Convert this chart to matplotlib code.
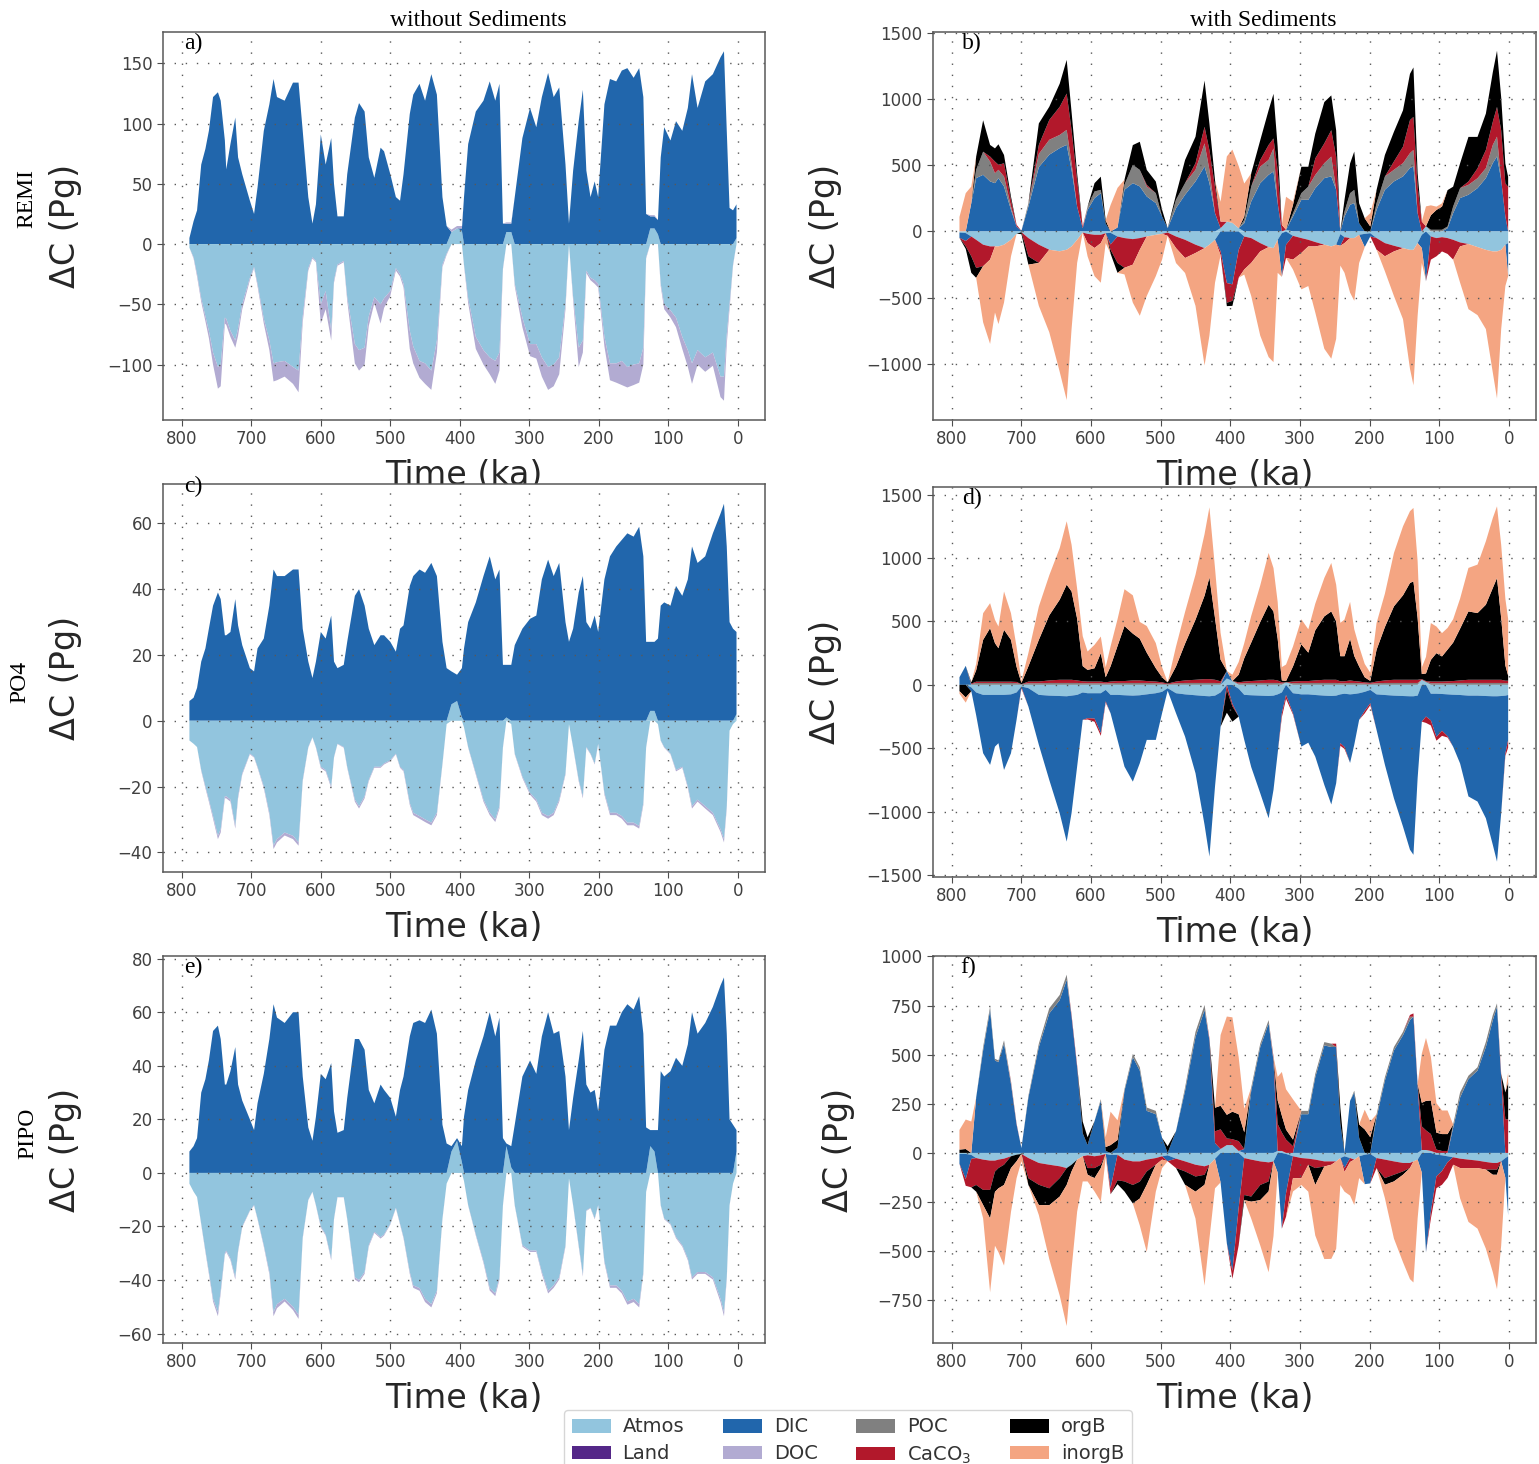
import numpy as np
import matplotlib
matplotlib.use('Agg')
import matplotlib.pyplot as plt
from matplotlib.patches import Patch

# ---- time axes (ka) ----
time_left = [789, 783, 778, 772, 766, 761, 755, 748, 744, 738,
             736, 730, 723, 719, 713, 702, 696, 691, 682, 674,
             668, 663, 652, 640, 632, 626, 618, 612, 607, 600,
             593, 585, 581, 576, 567, 562, 551, 545, 537, 531,
             523, 514, 509, 500, 492, 486, 481, 472, 467, 458,
             450, 441, 433, 425, 419, 412, 404, 397, 394, 388,
             377, 366, 357, 349, 343, 338, 333, 326, 321, 310,
             299, 290, 282, 273, 265, 257, 248, 243, 237, 229,
             223, 218, 212, 206, 201, 192, 184, 175, 167, 159,
             150, 142, 136, 132, 126, 120, 115, 111, 106, 97,
             89, 80, 72, 66, 58, 47, 36, 25, 20, 16,
             12, 7, 2]

time_right = [789, 780, 772, 765, 755, 745, 738, 733, 725, 715,
              707, 700, 690, 675, 660, 645, 635, 628, 620, 612,
              605, 595, 586, 579, 572, 562, 552, 540, 530, 520,
              507, 498, 490, 478, 465, 450, 437, 430, 422, 414,
              405, 397, 388, 380, 370, 357, 345, 338, 332, 326,
              320, 310, 298, 288, 278, 265, 255, 248, 242, 236,
              228, 222, 215, 207, 199, 190, 178, 165, 152, 142,
              137, 131, 125, 119, 112, 104, 96, 88, 80, 70,
              58, 45, 33, 23, 17, 11, 5, 1]

# ---- REMI, without sediments (Pg C) ----
remi_dic = [5, 19, 28, 66, 79, 94, 122, 126, 119, 86,
            62, 83, 105, 72, 58, 36, 25, 47, 94, 116,
            137, 122, 119, 134, 134, 94, 39, 17, 33, 91,
            66, 88, 50, 23, 23, 58, 105, 117, 110, 72,
            55, 80, 77, 58, 39, 36, 58, 108, 124, 133,
            119, 141, 124, 39, 15, 0, 0, 2, 39, 83,
            110, 119, 135, 119, 133, 17, 7, 7, 39, 88,
            113, 97, 122, 142, 122, 130, 66, 17, 61, 102,
            128, 61, 39, 52, 39, 116, 137, 135, 144, 146,
            138, 146, 122, 25, 10, 10, 12, 72, 97, 86,
            102, 94, 113, 141, 113, 135, 141, 155, 160, 94,
            30, 28, 28]
remi_atmos = [-3, -11, -25, -45, -60, -72, -90, -102, -100, -61,
              -62, -72, -80, -70, -50, -28, -19, -33, -62, -80,
              -99, -98, -97, -102, -105, -60, -20, -11, -14, -50,
              -39, -72, -30, -17, -14, -44, -83, -88, -86, -60,
              -44, -50, -45, -39, -20, -25, -33, -72, -85, -97,
              -99, -105, -80, -17, -8, 10, 13, 11, -17, -45,
              -77, -88, -94, -97, -90, -20, 10, 10, -33, -61,
              -83, -83, -94, -102, -100, -94, -50, 0, -44, -86,
              -80, -22, -28, -30, -33, -77, -99, -99, -97, -102,
              -100, -99, -86, -11, 13, 13, 8, -33, -50, -55,
              -61, -77, -88, -99, -88, -94, -90, -110, -110, -75,
              -50, -17, 5]
remi_doc = [0, -1, -2, -3, -4, -6, -10, -18, -18, -5,
            -5, -5, -6, -6, -4, -2, -1, -2, -4, -8,
            -15, -15, -13, -14, -18, -5, -2, -1, -1, -16,
            -15, -8, -2, -1, -1, -3, -16, -17, -14, -8,
            -5, -16, -8, -4, -2, -2, -3, -15, -14, -14,
            -17, -16, -10, -2, -1, 2, 2, 2, -1, -4,
            -10, -12, -14, -19, -15, -1, 1, 1, -2, -8,
            -10, -12, -16, -19, -18, -14, -4, 0, -3, -16,
            -10, -2, -2, -3, -3, -8, -14, -16, -20, -17,
            -17, -16, -14, -1, 1, 1, 0, -2, -4, -6,
            -8, -10, -14, -17, -12, -12, -11, -17, -20, -8,
            -4, -1, 0]

# ---- PO4, without sediments ----
po4_dic = [6, 7, 10, 18, 22, 28, 35, 39, 37, 26,
           26, 27, 37, 29, 23, 16, 15, 22, 25, 35,
           46, 44, 44, 46, 46, 28, 18, 13, 18, 27,
           25, 32, 18, 16, 17, 24, 38, 40, 35, 28,
           23, 26, 26, 24, 21, 28, 29, 41, 44, 46,
           45, 48, 44, 24, 16, 10, 8, 15, 22, 30,
           36, 44, 50, 43, 46, 17, 16, 17, 23, 28,
           31, 32, 43, 49, 44, 48, 30, 24, 28, 39,
           44, 30, 28, 32, 27, 43, 50, 53, 55, 57,
           56, 59, 50, 24, 21, 21, 25, 35, 36, 35,
           41, 38, 43, 53, 48, 50, 57, 63, 66, 53,
           30, 28, 25]
po4_atmos = [-6, -7, -8, -15, -20, -24, -29, -35, -33, -23,
             -23, -24, -32, -23, -16, -10, -11, -14, -20, -28,
             -38, -36, -34, -35, -37, -18, -8, -5, -8, -14,
             -15, -20, -11, -7, -8, -14, -24, -26, -23, -18,
             -14, -14, -13, -12, -10, -14, -15, -25, -28, -29,
             -30, -31, -28, -13, -1, 5, 6, 1, -2, -8,
             -16, -24, -28, -30, -26, -8, 1, -1, -10, -17,
             -22, -24, -28, -29, -28, -24, -16, -1, -8, -18,
             -23, -8, -10, -13, -7, -22, -28, -28, -29, -31,
             -31, -32, -25, -8, 3, 3, -1, -6, -8, -10,
             -15, -14, -20, -26, -24, -26, -28, -33, -36, -26,
             -3, -1, 2]
po4_doc = [0, 0, 0, -0.3, -0.5, -0.6, -0.8, -1, -1, -0.6,
           -0.6, -0.6, -0.8, -0.6, -0.4, -0.2, -0.2, -0.3, -0.5, -0.7,
           -1, -1, -0.9, -1, -1, -0.4, -0.2, -0.1, -0.2, -0.4,
           -0.4, -0.5, -0.2, -0.1, -0.2, -0.3, -0.6, -0.7, -0.6, -0.4,
           -0.3, -0.3, -0.3, -0.3, -0.2, -0.3, -0.4, -0.6, -0.7, -0.8,
           -0.8, -0.8, -0.7, -0.3, 0, 0, 0, 0, 0, -0.2,
           -0.4, -0.6, -0.7, -0.8, -0.7, -0.2, 0, 0, -0.2, -0.4,
           -0.5, -0.6, -0.7, -0.8, -0.7, -0.6, -0.4, 0, -0.2, -0.4,
           -0.6, -0.2, -0.2, -0.3, -0.2, -0.5, -0.7, -0.7, -0.8, -0.8,
           -0.8, -0.8, -0.6, -0.2, 0, 0, 0, -0.1, -0.2, -0.2,
           -0.4, -0.3, -0.5, -0.7, -0.6, -0.7, -0.7, -0.8, -1, -0.7,
           0, 0, 0]

# ---- PIPO, without sediments ----
pipo_dic = [8, 10, 13, 30, 35, 42, 53, 55, 50, 33,
            33, 38, 47, 33, 27, 20, 16, 26, 37, 50,
            63, 58, 56, 60, 60, 36, 17, 12, 21, 37,
            35, 41, 23, 15, 16, 28, 50, 50, 46, 31,
            26, 33, 31, 28, 21, 31, 36, 51, 56, 57,
            56, 61, 52, 18, 11, 2, 1, 6, 21, 31,
            42, 51, 60, 51, 58, 13, 1, 8, 18, 36,
            42, 37, 51, 60, 52, 53, 36, 16, 28, 42,
            53, 33, 30, 31, 23, 46, 55, 55, 60, 63,
            61, 66, 52, 17, 6, 8, 16, 38, 36, 38,
            43, 40, 48, 60, 52, 56, 62, 70, 73, 52,
            20, 18, 8]
pipo_atmos = [-4, -7, -9, -19, -29, -37, -47, -52, -44, -30,
              -29, -32, -39, -29, -20, -14, -12, -17, -27, -37,
              -52, -49, -47, -50, -53, -24, -10, -7, -12, -20,
              -23, -32, -17, -9, -9, -17, -39, -40, -37, -27,
              -22, -24, -23, -19, -13, -19, -24, -37, -42, -43,
              -47, -49, -44, -17, -4, 8, 12, 4, -3, -12,
              -23, -33, -43, -45, -39, -12, 10, 2, -12, -27,
              -29, -29, -37, -44, -42, -39, -27, -2, -12, -27,
              -38, -14, -13, -17, -12, -33, -42, -42, -44, -48,
              -47, -49, -37, -7, 10, 8, 0, -12, -17, -19,
              -24, -27, -32, -39, -37, -37, -39, -47, -52, -39,
              -12, -4, 8]
pipo_doc = [0, 0, 0, -0.3, -0.5, -0.7, -1, -1.5, -1, -0.5,
            -0.5, -0.5, -0.8, -0.5, -0.3, -0.2, -0.2, -0.3, -0.5, -0.8,
            -1.5, -1.5, -1, -1.2, -1.5, -0.4, -0.2, -0.1, -0.2, -0.4,
            -0.4, -0.6, -0.3, -0.1, -0.1, -0.3, -0.8, -0.8, -0.7, -0.5,
            -0.4, -0.5, -0.4, -0.3, -0.2, -0.3, -0.4, -0.7, -0.9, -1,
            -1.2, -1.2, -0.9, -0.3, 0, 0, 0, 0, 0, -0.2,
            -0.4, -0.6, -0.9, -1, -0.8, -0.2, 0, 0, -0.2, -0.5,
            -0.5, -0.5, -0.7, -1, -0.9, -0.8, -0.5, 0, -0.2, -0.5,
            -0.7, -0.2, -0.2, -0.3, -0.2, -0.6, -0.9, -0.9, -1, -1.2,
            -1.2, -1.2, -0.7, -0.1, 0, 0, 0, -0.2, -0.3, -0.3,
            -0.4, -0.5, -0.6, -0.8, -0.7, -0.7, -0.8, -1.2, -1.5, -0.8,
            -0.2, 0, 0]

# ---- REMI, with sediments ----
remi_s_atmos = [-8, -12, -38, -63, -100, -113, -113, -113, -100, -63,
                -18, -5, -50, -100, -138, -150, -138, -113, -63, -8,
                -18, -25, -25, -13, -10, -38, -50, -58, -50, -38,
                -25, -18, -8, -38, -63, -100, -126, -100, -63, 25,
                75, 65, 25, -38, -50, -88, -118, -126, -63, -13,
                13, -33, -50, -63, -80, -100, -113, -100, -20, -43,
                -50, -50, -25, -18, -13, -50, -88, -108, -126, -139,
                -139, -88, -25, 40, -38, -50, -43, -50, -63, -83,
                -95, -118, -139, -151, -151, -139, -100, -88]
remi_s_dic = [-40, -60, 215, 404, 429, 379, 366, 404, 341, 164,
              38, 5, 189, 487, 581, 631, 656, 467, 189, 25,
              164, 253, 290, 60, -88, 30, 316, 366, 341, 265,
              215, 114, 25, 177, 278, 379, 492, 366, 139, -150,
              -390, -400, -140, 63, 227, 366, 429, 454, 215, -330,
              -100, 113, 240, 240, 328, 404, 417, 316, -88, 114,
              202, 215, 63, -100, -25, 164, 316, 379, 417, 480,
              492, 139, -100, -375, 0, 0, 0, 25, 139, 253,
              278, 328, 404, 518, 568, 391, 114, -250]
remi_s_poc = [0, 0, 0, 63, 175, 150, 75, 63, 75, 25,
              0, 0, 25, 100, 113, 100, 113, 50, 0, 0,
              25, 50, 25, 0, 0, 0, 38, 138, 125, 75,
              75, 0, 0, 63, 88, 88, 175, 100, 0, 0,
              0, 0, 0, 25, 113, 125, 113, 175, 0, 0,
              0, 25, 50, 100, 100, 113, 150, 0, 0, 38,
              88, 100, 0, 0, 0, 50, 100, 88, 100, 113,
              125, 0, 0, 0, 13, 13, 13, 13, 50, 75,
              75, 75, 75, 138, 150, 0, 0, 0]
remi_s_caco3_up = [0, 0, 0, 0, 0, 38, 88, 38, 100, 50,
                   13, 0, 0, 68, 150, 213, 275, 250, 200, 13,
                   0, 0, 0, 0, 0, 0, 0, 0, 0, 13,
                   0, 0, 0, 0, 0, 50, 125, 150, 200, 50,
                   0, 0, 0, 0, 0, 50, 113, 75, 250, 50,
                   0, 0, 0, 0, 125, 150, 200, 250, 0, 0,
                   0, 0, 0, 0, 0, 0, 0, 63, 125, 250,
                   250, 200, 75, 0, 0, 0, 0, 0, 0, 0,
                   25, 75, 138, 175, 225, 375, 250, 338]
remi_s_caco3_dn = [0, -40, -150, -213, -163, -100, 0, 0, 0, 0,
                   0, 0, -138, -138, 0, 0, 0, 0, 0, 0,
                   -70, -100, -63, 0, -40, -200, -225, -193, -88, 0,
                   0, 0, -25, -88, -138, -63, 0, 0, 0, -30,
                   -150, -125, -210, -250, -188, -63, 0, 0, 0, 0,
                   -100, -180, -113, -50, -33, 0, 0, 0, 0, -45,
                   0, 0, 0, 0, 0, -88, -100, -43, 0, 0,
                   0, 0, 0, 0, -175, -138, -108, -120, -150, -30,
                   0, 0, 0, 0, 0, 0, 0, 0]
remi_s_orgb_up = [0, 0, 0, 100, 238, 88, 100, 155, 63, 25,
                  0, 0, 0, 163, 100, 175, 255, 138, 50, 0,
                  0, 63, 100, 25, 0, 0, 38, 150, 213, 113,
                  88, 50, 0, 38, 175, 200, 350, 200, 50, 0,
                  0, 0, 0, 25, 100, 150, 263, 338, 175, 0,
                  0, 63, 200, 150, 188, 313, 263, 200, 0, 88,
                  225, 290, 150, 100, 38, 100, 163, 225, 275, 350,
                  375, 100, 0, 0, 110, 150, 175, 275, 150, 188,
                  338, 238, 275, 375, 425, 250, 150, 75]
remi_s_orgb_dn = [0, -20, -125, -75, 0, 0, 0, 0, 0, 0,
                  0, -15, -63, 0, 0, 0, 0, 0, 0, 0,
                  0, 0, 0, 0, -30, -75, 0, 0, 0, 0,
                  0, 0, 0, 0, 0, 0, 0, 0, 0, 0,
                  -25, -38, 0, 0, 0, 0, 0, 0, 0, 0,
                  0, 0, 0, 0, 0, 0, 0, 0, 0, 0,
                  0, 0, 0, 0, 0, 0, 0, 0, 0, 0,
                  0, 0, 0, 0, 0, 0, 0, 0, 0, 0,
                  0, 0, 0, 0, 0, 0, 0, 0]
remi_s_inorgb_up = [110, 290, 125, 0, 0, 0, 0, 0, 0, 0,
                    0, 0, 0, 0, 0, 0, 0, 0, 0, 0,
                    0, 0, 0, 0, 200, 300, 0, 0, 0, 0,
                    0, 0, 0, 0, 0, 0, 0, 0, 0, 150,
                    493, 555, 470, 250, 0, 0, 0, 0, 0, 0,
                    250, 25, 0, 0, 0, 0, 0, 0, 0, 0,
                    0, 0, 0, 0, 100, 0, 0, 0, 0, 0,
                    0, 0, 0, 150, 75, 25, 25, 0, 0, 0,
                    0, 0, 0, 0, 0, 0, 0, 0]
remi_s_inorgb_dn = [0, 0, 0, 0, -425, -638, -500, -588, -438, -125,
                    0, 0, 0, -325, -625, -913, -1138, -625, -175, 0,
                    -100, -213, -300, -75, 0, 0, -50, -288, -500, -450,
                    -313, -195, 0, -113, -113, -400, -888, -688, -325, 0,
                    0, 0, 0, -38, -250, -638, -833, -863, -250, 0,
                    0, -75, -275, -300, -500, -788, -850, -713, -150, -225,
                    -413, -475, -213, 0, 0, 0, -113, -338, -538, -900,
                    -1025, -550, -113, 0, 0, 0, 0, 0, 0, -275,
                    -493, -515, -600, -918, -1113, -600, -313, 0]

# ---- PO4, with sediments ----
po4_s_atmos = [0, 0, -20, -60, -79, -79, -79, -79, -79, -75,
               -60, -13, -26, -79, -85, -88, -90, -85, -79, -60,
               -66, -66, -66, -40, -79, -79, -82, -85, -82, -75,
               -66, -55, -26, -66, -75, -82, -88, -90, -85, -60,
               50, 30, -30, -79, -82, -85, -88, -85, -75, -60,
               20, -66, -75, -75, -80, -85, -88, -85, -75, -70,
               -75, -72, -66, -55, -40, -75, -80, -85, -88, -90,
               -90, -85, 40, 20, -70, -70, -72, -75, -78, -80,
               -85, -85, -88, -90, -90, -88, -85, -80]
po4_s_dic = [60, 150, -30, -180, -460, -552, -408, -381, -592, -464,
             -216, -5, -145, -394, -665, -925, -1146, -925, -565, -216,
             -197, -200, -316, -90, -145, -355, -563, -678, -536, -359,
             -368, -168, -20, -158, -333, -615, -1016, -1264, -717, -270,
             60, -150, -220, -355, -566, -770, -964, -743, -464, -164,
             -80, -158, -412, -381, -486, -704, -855, -691, -385, -420,
             -540, -400, -210, -150, -105, -280, -550, -810, -1030, -1210,
             -1250, -650, -290, -250, -210, -340, -290, -330, -410, -540,
             -795, -835, -964, -1172, -1304, -925, -455, -355]
po4_s_poc = [0, 0, 5, 15, 15, 15, 15, 15, 15, 15,
             13, 5, 13, 13, 15, 15, 15, 15, 15, 13,
             13, 13, 13, 10, 13, 15, 15, 15, 15, 15,
             13, 10, 5, 13, 15, 15, 15, 15, 15, 13,
             0, 0, 10, 13, 15, 15, 15, 15, 15, 10,
             0, 13, 15, 15, 15, 15, 15, 15, 13, 13,
             15, 15, 13, 10, 8, 13, 15, 15, 15, 15,
             15, 15, 0, 5, 13, 13, 13, 13, 15, 15,
             15, 15, 15, 15, 15, 15, 13, 13]
po4_s_caco3_up = [0, 0, 5, 10, 10, 10, 10, 10, 10, 10,
                  10, 0, 13, 13, 20, 25, 25, 25, 20, 15,
                  13, 13, 13, 10, 13, 15, 15, 20, 20, 15,
                  13, 10, 5, 13, 20, 25, 30, 30, 25, 15,
                  0, 0, 10, 13, 15, 20, 25, 25, 20, 10,
                  0, 13, 15, 15, 20, 25, 25, 25, 15, 15,
                  20, 15, 13, 10, 8, 13, 20, 25, 25, 25,
                  25, 25, 5, 5, 13, 13, 13, 15, 15, 20,
                  25, 25, 25, 25, 25, 25, 20, 20]
po4_s_caco3_dn = [0, 0, 0, 0, 0, 0, 0, 0, 0, 0,
                  0, -10, 0, 0, 0, 0, 0, 0, 0, 0,
                  -10, -25, -20, -10, 0, 0, 0, 0, 0, 0,
                  0, 0, 0, 0, 0, 0, 0, 0, 0, 0,
                  -40, -20, 0, 0, 0, 0, 0, 0, 0, -30,
                  -30, -10, 0, 0, 0, 0, 0, 0, -20, -15,
                  0, 0, 0, -20, -15, 0, 0, 0, 0, 0,
                  0, 0, 0, -50, -40, -30, -40, -10, 0, 0,
                  0, 0, 0, 0, 0, 0, -20, -60]
po4_s_orgb_up = [0, 0, 10, 90, 330, 422, 304, 264, 409, 330,
                 120, 10, 120, 329, 513, 632, 750, 697, 487, 120,
                 92, 105, 224, 40, 120, 276, 434, 369, 329, 224,
                 105, 40, 10, 119, 290, 474, 658, 802, 487, 171,
                 0, 0, 60, 184, 303, 461, 592, 539, 329, 15,
                 10, 119, 290, 224, 395, 500, 539, 461, 198, 198,
                 329, 198, 119, 40, 15, 250, 421, 579, 666, 763,
                 776, 487, 40, 60, 171, 224, 198, 250, 303, 408,
                 539, 526, 592, 724, 802, 487, 120, 40]
po4_s_orgb_dn = [-50, -100, 0, 0, 0, 0, 0, 0, 0, 0,
                 0, 0, 0, 0, 0, 0, 0, 0, 0, 0,
                 0, 0, 0, 0, 0, 0, 0, 0, 0, 0,
                 0, 0, 0, 0, 0, 0, 0, 0, 0, 0,
                 -180, -120, 0, 0, 0, 0, 0, 0, 0, 0,
                 0, 0, 0, 0, 0, 0, 0, 0, 0, 0,
                 0, 0, 0, 0, 0, 0, 0, 0, 0, 0,
                 0, 0, 0, 0, 0, 0, 0, 0, 0, 0,
                 0, 0, 0, 0, 0, 0, 0, 0]
po4_s_inorgb_up = [0, 0, 0, 50, 210, 197, 184, 171, 302, 210,
                   157, 15, 105, 263, 316, 407, 500, 368, 237, 236,
                   145, 185, 131, 79, 157, 211, 290, 302, 132, 210,
                   198, 79, 0, 157, 250, 355, 486, 553, 394, 211,
                   0, 50, 100, 119, 210, 289, 408, 342, 290, 105,
                   130, 157, 197, 184, 210, 303, 382, 289, 263, 289,
                   290, 210, 157, 105, 65, 211, 263, 421, 544, 566,
                   579, 447, 52, 130, 290, 210, 184, 171, 184, 237,
                   343, 382, 500, 552, 566, 578, 526, 447]
po4_s_inorgb_dn = [-20, -40, 0, 0, 0, 0, 0, 0, 0, 0,
                   0, 0, 0, 0, 0, 0, 0, 0, 0, 0,
                   0, 0, 0, 0, 0, 0, 0, 0, 0, 0,
                   0, 0, 0, 0, 0, 0, 0, 0, 0, 0,
                   0, 0, 0, 0, 0, 0, 0, 0, 0, 0,
                   0, 0, 0, 0, 0, 0, 0, 0, 0, 0,
                   0, 0, 0, 0, 0, 0, 0, 0, 0, 0,
                   0, 0, 0, 0, 0, 0, 0, 0, 0, 0,
                   0, 0, 0, 0, 0, 0, 0, 0]

# ---- PIPO, with sediments ----
pipo_s_atmos = [-5, -5, -10, -26, -34, -39, -39, -34, -29, -17,
                -9, -5, -26, -51, -60, -68, -77, -60, -34, -17,
                -12, -17, -12, -5, -10, -9, -34, -43, -43, -34,
                -26, -17, -12, -29, -43, -60, -68, -60, -30, 20,
                40, 40, 10, -26, -34, -43, -48, -43, 10, 10,
                -5, -17, -26, -29, -34, -43, -43, -43, -26, -17,
                -26, -34, -17, -9, -5, -26, -34, -43, -51, -51,
                -43, -34, 15, 15, 10, -9, -12, -17, -22, -29,
                -34, -39, -46, -51, -51, -43, -26, -17]
pipo_s_dic = [-50, -128, -20, 282, 522, 727, 470, 462, 556, 351,
              145, 25, 282, 539, 710, 778, 881, 693, 436, 100,
              40, 162, 265, 10, -170, 26, 316, 487, 419, 214,
              197, 77, -30, 111, 316, 590, 727, 573, 50, -150,
              -460, -600, -280, 20, 316, 539, 659, 470, -100, -385,
              -200, 0, 197, 197, 385, 547, 539, 539, 150, -60,
              265, 308, 77, -150, -150, 180, 368, 522, 599, 676,
              693, 342, -100, -505, -300, -110, -80, -30, 128, 282,
              376, 419, 539, 676, 744, 385, -100, -300]
pipo_s_poc = [0, 0, 0, 0, 17, 17, 9, 9, 17, 9,
              0, 0, 9, 17, 26, 26, 26, 0, 0, 0,
              0, 0, 9, 0, 0, 0, 9, 17, 17, 17,
              17, 0, 0, 0, 17, 26, 26, 0, 0, 0,
              0, 0, 0, 0, 17, 17, 17, 10, 0, 0,
              0, 0, 17, 17, 17, 17, 17, 0, 0, 0,
              0, 9, 0, 0, 0, 17, 17, 17, 17, 17,
              0, 0, 0, 0, 0, 0, 0, 0, 17, 26,
              17, 17, 26, 26, 17, 0, 0, 0]
pipo_s_caco3_up = [0, 0, 0, 0, 0, 0, 0, 0, 0, 5,
                   5, 0, 0, 0, 0, 0, 0, 10, 10, 0,
                   0, 0, 0, 0, 0, 0, 0, 0, 0, 0,
                   0, 0, 0, 0, 0, 0, 0, 10, 60, 100,
                   34, 30, 50, 0, 0, 0, 0, 10, 137, 94,
                   68, 34, 0, 0, 0, 0, 0, 17, 0, 0,
                   0, 0, 0, 0, 0, 0, 0, 0, 0, 9,
                   17, 9, 120, 100, 86, 17, 10, 10, 0, 0,
                   0, 0, 0, 0, 0, 17, 171, 171]
pipo_s_caco3_dn = [0, -34, -145, -137, -154, -149, -56, -43, -31, 0,
                   0, 0, -103, -111, -120, -60, 0, 0, 0, 0,
                   -65, -60, -48, 0, -30, -130, -111, -120, -103, -60,
                   -34, -17, 0, -48, -51, -60, -43, 0, 0, 0,
                   0, -40, -190, -188, -188, -120, -97, 0, 0, 0,
                   -120, -111, -103, -31, -43, -26, -17, 0, 0, -20,
                   -20, 0, 0, 0, 0, -51, -94, -68, -43, -26,
                   0, 0, 0, 0, -34, -60, -70, -80, -38, -48,
                   -43, -38, -39, -34, -34, 0, 0, 0]
pipo_s_orgb_up = [17, 20, 0, 0, 0, 0, 0, 0, 0, 0,
                  0, 0, 0, 0, 0, 0, 0, 0, 0, 60,
                  40, 0, 0, 20, 40, 40, 0, 0, 0, 0,
                  0, 0, 34, 0, 0, 0, 0, 0, 120, 120,
                  120, 140, 137, 85, 0, 0, 0, 0, 120, 86,
                  51, 34, 0, 0, 0, 0, 0, 0, 80, 0,
                  0, 0, 68, 120, 80, 0, 0, 0, 0, 0,
                  0, 0, 120, 150, 171, 86, 86, 86, 0, 0,
                  0, 0, 0, 0, 0, 0, 137, 188]
pipo_s_orgb_dn = [0, 0, 0, -34, -77, -145, -103, -103, -103, -60,
                  -34, 0, -34, -103, -86, -94, -86, -34, 0, 0,
                  -34, -51, -17, 0, 0, -20, -51, -94, -86, -68,
                  0, 0, 0, 0, -68, -77, -51, 0, 0, 0,
                  0, 0, 0, -26, -26, -77, -51, 0, 0, 0,
                  0, 0, 0, 0, -86, 0, 0, 0, 0, 0,
                  0, 0, 0, 0, 0, 0, -34, -34, -17, 0,
                  0, 0, 0, 0, 0, 0, 0, 0, 0, 0,
                  0, 0, 0, -26, -26, 0, 0, 0]
pipo_s_inorgb_up = [100, 150, 160, 0, 0, 0, 0, 0, 0, 0,
                    0, 0, 0, 0, 0, 0, 0, 0, 0, 0,
                    0, 0, 0, 50, 170, 100, 0, 0, 0, 0,
                    0, 0, 0, 0, 0, 0, 0, 0, 0, 360,
                    500, 480, 290, 120, 0, 0, 0, 0, 120, 222,
                    205, 205, 0, 0, 0, 0, 0, 0, 0, 0,
                    0, 0, 0, 100, 80, 0, 0, 0, 0, 0,
                    0, 0, 250, 320, 222, 150, 120, 120, 0, 0,
                    0, 0, 0, 0, 0, 0, 0, 50]
pipo_s_inorgb_dn = [0, 0, 0, 0, -68, -376, -274, -325, -410, -223,
                    -86, -37, 0, -51, -274, -504, -718, -496, -265, -128,
                    -34, -68, -171, -20, 0, 0, 0, 0, -137, -342,
                    -137, -43, 0, 0, 0, -137, -513, -376, -150, 0,
                    0, 0, 0, 0, -86, -231, -411, -380, 0, 0,
                    0, -68, -34, -137, -257, -471, -479, -445, -137, -100,
                    -171, -231, -111, 0, 0, 0, -68, -291, -445, -565,
                    -616, -299, 0, 0, 0, 0, 0, 0, 0, -154,
                    -274, -308, -402, -496, -582, -428, 0, 0]

labels = ['Atmos', 'Land', 'DIC', 'DOC', 'POC', 'CaCO$_3$', 'orgB', 'inorgB']
colors = ['#92c5de', '#542788', '#2166ac', '#b2abd2', '#808080', '#b2182b', '#000000', '#f4a582']
col = dict(zip(['atmos', 'land', 'dic', 'doc', 'poc', 'caco3', 'orgb', 'inorgb'], colors))

W, H = 1539, 1464
SERIF = 'Liberation Serif'


def px_axes(x0, y0, x1, y1):
    return [x0 / W, 1 - y1 / H, (x1 - x0) / W, (y1 - y0) / H]


def style(ax, ylim, yticks, ylab_x):
    ax.set_xlim(827, -39)
    ax.set_ylim(*ylim)
    ax.set_xticks(range(800, -1, -100))
    ax.set_yticks(yticks)
    ax.set_axisbelow(False)
    ax.grid(True, ls=(0, (1, 7)), color='0.35', lw=1.0)
    ax.tick_params(labelsize=12, colors='0.3', labelcolor='0.25', length=4)
    for s in ax.spines.values():
        s.set_color('0.35')
        s.set_linewidth(1.1)
    ax.set_xlabel('Time (ka)', fontsize=24, color='0.15')
    ax.set_ylabel('ΔC (Pg)', fontsize=24, color='0.15')
    ax.xaxis.set_label_coords(0.5, -0.1)
    ax.yaxis.set_label_coords(ylab_x, 0.5)


def no_sed(ax, dic, atmos, doc):
    t = np.array(time_left, float)
    comps = [np.array(atmos, float), np.array(dic, float), np.array(doc, float)]
    cc = [col['atmos'], col['dic'], col['doc']]
    ax.stackplot(t, [np.clip(c, 0, None) for c in comps], colors=cc, lw=0)
    ax.stackplot(t, [np.clip(c, None, 0) for c in comps], colors=cc, lw=0)


def with_sed(ax, atmos, dic, poc, ca_up, ca_dn, org_up, org_dn, in_up, in_dn):
    t = np.array(time_right, float)
    atmos = np.array(atmos, float)
    dic = np.array(dic, float)
    up = [np.clip(atmos, 0, None), np.clip(dic, 0, None), np.array(poc, float),
          np.array(ca_up, float), np.array(org_up, float), np.array(in_up, float)]
    dn = [np.clip(atmos, None, 0), np.clip(dic, None, 0), np.zeros_like(t),
          np.array(ca_dn, float), np.array(org_dn, float), np.array(in_dn, float)]
    cc = [col['atmos'], col['dic'], col['poc'], col['caco3'], col['orgb'], col['inorgb']]
    ax.stackplot(t, up, colors=cc, lw=0)
    ax.stackplot(t, dn, colors=cc, lw=0)


fig = plt.figure(figsize=(W / 100, H / 100), dpi=100)

ax_a = fig.add_axes(px_axes(163, 32, 765, 420))
no_sed(ax_a, remi_dic, remi_atmos, remi_doc)
style(ax_a, (-146, 176), [-100, -50, 0, 50, 100, 150], -0.135)

ax_b = fig.add_axes(px_axes(933, 32, 1536, 420))
with_sed(ax_b, remi_s_atmos, remi_s_dic, remi_s_poc, remi_s_caco3_up, remi_s_caco3_dn,
         remi_s_orgb_up, remi_s_orgb_dn, remi_s_inorgb_up, remi_s_inorgb_dn)
style(ax_b, (-1427, 1510), [-1000, -500, 0, 500, 1000, 1500], -0.151)

ax_c = fig.add_axes(px_axes(163, 484, 765, 872))
no_sed(ax_c, po4_dic, po4_atmos, po4_doc)
style(ax_c, (-46, 72), [-40, -20, 0, 20, 40, 60], -0.135)

ax_d = fig.add_axes(px_axes(933, 487, 1536, 877))
with_sed(ax_d, po4_s_atmos, po4_s_dic, po4_s_poc, po4_s_caco3_up, po4_s_caco3_dn,
         po4_s_orgb_up, po4_s_orgb_dn, po4_s_inorgb_up, po4_s_inorgb_dn)
style(ax_d, (-1515, 1560), [-1500, -1000, -500, 0, 500, 1000, 1500], -0.151)

ax_e = fig.add_axes(px_axes(163, 956, 765, 1343))
no_sed(ax_e, pipo_dic, pipo_atmos, pipo_doc)
style(ax_e, (-63.5, 81), [-60, -40, -20, 0, 20, 40, 60, 80], -0.135)

ax_f = fig.add_axes(px_axes(933, 956, 1536, 1343))
with_sed(ax_f, pipo_s_atmos, pipo_s_dic, pipo_s_poc, pipo_s_caco3_up, pipo_s_caco3_dn,
         pipo_s_orgb_up, pipo_s_orgb_dn, pipo_s_inorgb_up, pipo_s_inorgb_dn)
style(ax_f, (-967, 1002), [-750, -500, -250, 0, 250, 500, 750, 1000], -0.13)

# panel letters, row and column titles
for s, x, y in [('a)', 184, 43), ('b)', 962, 43), ('c)', 184, 486),
                ('d)', 962, 498), ('e)', 184, 967), ('f)', 960, 967)]:
    fig.text(x / W, 1 - y / H, s, family=SERIF, fontsize=17, ha='left', va='center')
for s, x, y in [('REMI', 27, 198), ('PO4', 20, 682), ('PIPO', 28, 1133)]:
    fig.text(x / W, 1 - y / H, s, family=SERIF, fontsize=17, rotation=90, ha='center', va='center')
fig.text(478 / W, 1 - 21 / H, 'without Sediments', family=SERIF, fontsize=17, ha='center', va='center')
fig.text(1263 / W, 1 - 21 / H, 'with Sediments', family=SERIF, fontsize=17, ha='center', va='center')

handles = [Patch(facecolor=c, edgecolor='none') for c in colors]
fig.legend(handles, labels, loc='upper center', bbox_to_anchor=(848 / W, 1 - 1400 / H),
           ncol=4, fontsize=14, labelcolor='0.2', handletextpad=0.6, labelspacing=0.4)

fig.savefig('out.png', dpi=100)
